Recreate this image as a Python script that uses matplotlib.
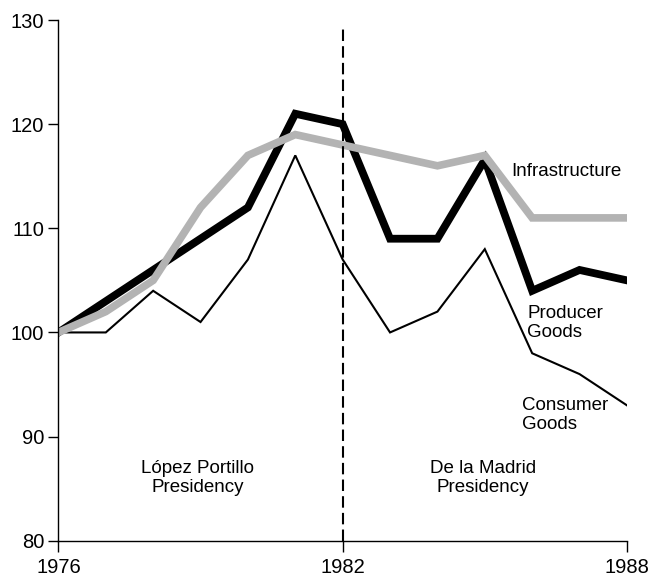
import matplotlib
matplotlib.use("Agg")
import matplotlib.pyplot as plt

years = list(range(1976, 1989))
consumer = [100, 100, 104, 101, 107, 117, 107, 100, 102, 108, 98, 96, 93]
producer = [100, 103, 106, 109, 112, 121, 120, 109, 109, 116.6, 104, 106, 105]
infrastructure = [100, 102, 105, 112, 117, 119, 118, 117, 116, 117, 111, 111, 111]

x_ticks = [1976, 1982, 1988]
y_ticks = [80, 90, 100, 110, 120, 130]

plt.rcParams['font.family'] = ['Liberation Sans', 'DejaVu Sans']

fig = plt.figure(figsize=(6.49, 5.80), dpi=100)
ax = fig.add_axes([0.090, 0.0677, 0.876, 0.8978])

ax.plot(years, consumer, color='black', lw=1.5, solid_joinstyle='miter')
ax.plot(years, producer, color='black', lw=5.6, solid_joinstyle='miter')
ax.plot(years, infrastructure, color='#b3b3b3', lw=5.5, solid_joinstyle='miter')

ax.axvline(1982, ymax=0.985, color='black', lw=1.5, ls=(0, (5.5, 2.5)))

ax.set_xlim(1976, 1988)
ax.set_ylim(80, 130)
ax.set_xticks(x_ticks)
ax.set_yticks(y_ticks)
ax.tick_params(labelsize=14.5, width=1, direction='out')
ax.tick_params(axis='x', length=8, pad=4.5)
ax.tick_params(axis='y', length=7.2, pad=3)
for s in ['top', 'right']:
    ax.spines[s].set_visible(False)
for s in ['left', 'bottom']:
    ax.spines[s].set_linewidth(1)
    ax.spines[s].set_clip_on(False)

fs = 13.5
ls = 1.15
ax.text(1985.55, 115.5, 'Infrastructure', fontsize=fs, ha='left', va='center')
ax.text(1985.9, 100.9, 'Producer\nGoods', fontsize=fs, ha='left', va='center', linespacing=ls)
ax.text(1985.78, 92.1, 'Consumer\nGoods', fontsize=fs, ha='left', va='center', linespacing=ls)
ax.text(1978.94, 86.0, 'López Portillo\nPresidency', fontsize=fs, ha='center', va='center', linespacing=ls)
ax.text(1984.96, 86.0, 'De la Madrid\nPresidency', fontsize=fs, ha='center', va='center', linespacing=ls)

fig.savefig('out.png', dpi=100)
